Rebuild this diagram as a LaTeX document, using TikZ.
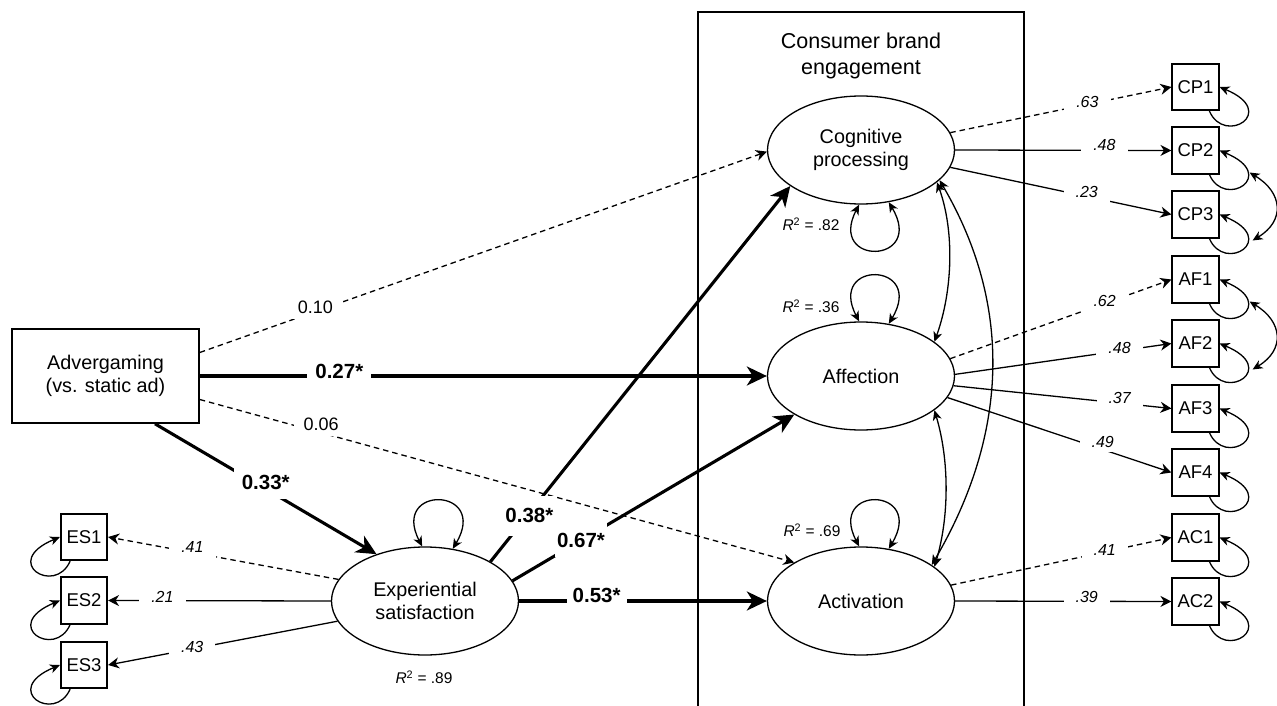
\documentclass[tikz,border=0pt]{standalone}
\usepackage{fontspec}
\setmainfont{Liberation Sans}
\usetikzlibrary{shapes.geometric,arrows.meta,calc}
\tikzset{
 lat/.style={ellipse,draw,line width=1.3pt,minimum width=187pt,minimum height=108pt,align=center,inner sep=1pt,font=\fontsize{19.8}{23.5}\selectfont},
 obs/.style={draw,line width=1.6pt,minimum width=46.5pt,minimum height=46.5pt,inner sep=0pt,font=\fontsize{18.5}{22}\selectfont},
 pathn/.style={line width=1.3pt,-{Stealth[length=11pt,width=11pt,inset=3.5pt]}},
 pathd/.style={pathn,dash pattern=on 5.5pt off 4pt},
 pathb/.style={line width=3.1pt,-{Stealth[length=20pt,width=19pt,inset=6pt]}},
 cov/.style={line width=1.3pt,{Stealth[length=10pt,width=9pt,inset=3pt]}-{Stealth[length=10pt,width=9pt,inset=3pt]}},
 resl/.style={line width=1.3pt,-{Stealth[length=10pt,width=9pt,inset=3pt]}},
 lab/.style={fill=white,inner xsep=12pt,inner ysep=5pt,font=\fontsize{16}{18}\selectfont\itshape},
 nlab/.style={fill=white,inner xsep=10pt,inner ysep=5pt,font=\fontsize{18}{20}\selectfont},
 blab/.style={fill=white,inner xsep=8pt,inner ysep=5pt,font=\fontsize{20.5}{24}\selectfont\bfseries},
 rsq/.style={font=\fontsize{15.5}{18}\selectfont},
}
\begin{document}
\begin{tikzpicture}[x=1pt,y=-1pt]
\useasboundingbox (0,0) rectangle (1277,706);
% frame
\draw[line width=1.5pt] (698,706) -- (698,12) -- (1024,12) -- (1024,706);
\node[align=center,font=\fontsize{21.5}{25.5}\selectfont] (cbe) at (861,56) {Consumer brand\\engagement};
% nodes
\node[obs,minimum width=187pt,minimum height=94pt,align=center,font=\fontsize{19.8}{23}\selectfont] (adv) at (105.5,376) {Advergaming\\(vs. static ad)};
\node[lat] (cog) at (861,150) {Cognitive\\processing};
\node[lat] (af) at (861,376) {Affection};
\node[lat] (act) at (861,601) {Activation};
\node[lat] (es) at (425,601) {Experiential\\satisfaction};
\node[obs] (es1) at (84,537) {ES1};
\node[obs] (es2) at (84,600.5) {ES2};
\node[obs] (es3) at (84,665) {ES3};
\node[obs] (cp1) at (1195.5,87) {CP1};
\node[obs] (cp2) at (1195.5,150.5) {CP2};
\node[obs] (cp3) at (1195.5,214.5) {CP3};
\node[obs] (af1) at (1195.5,279.5) {AF1};
\node[obs] (af2) at (1195.5,343.5) {AF2};
\node[obs] (af3) at (1195.5,408.5) {AF3};
\node[obs] (af4) at (1195.5,472.5) {AF4};
\node[obs] (ac1) at (1195.5,537.5) {AC1};
\node[obs] (ac2) at (1195.5,601.5) {AC2};
% R2
\node[rsq] (r2cog) at (811,224) {\textit{R}\textsuperscript{2} = .82};
\node[rsq] (r2af) at (811,306) {\textit{R}\textsuperscript{2} = .36};
\node[rsq] (r2act) at (812,530) {\textit{R}\textsuperscript{2} = .69};
\node[rsq] (r2es) at (424,677) {\textit{R}\textsuperscript{2} = .89};
% structural paths
\draw[pathd] (adv.14.4) -- node[nlab,pos=.204,yshift=4pt]{0.10} (cog.181);
\draw[pathb] (adv.east) -- node[blab,pos=.246,yshift=5pt]{0.27*} (af.west);
\draw[pathd] (adv.-14) -- node[nlab,pos=.204,yshift=8pt]{0.06} (act.150);
\draw[pathb] (adv.-44.7) -- node[blab,pos=.5,yshift=7pt,minimum height=34pt]{0.33*} (es.136);
\draw[pathb] (es.31) -- node[blab,pos=.13,yshift=-3pt,minimum height=40pt,inner xsep=4pt]{0.38*} (cog.207);
\draw[pathb] (es.13) -- node[blab,pos=.243,minimum height=34pt,inner xsep=2pt]{0.67*} (af.210);
\draw[pathb] (es.east) -- node[blab,pos=.313,yshift=6pt,minimum height=28pt,inner xsep=6pt]{0.53*} (act.west);
% measurement paths
\draw[pathd] (cog.11) -- node[lab,pos=.62,yshift=2.5pt]{.63} (cp1.west);
\draw[pathn] (cog.east) -- node[lab,pos=.69,yshift=5pt]{.48} (cp2.west);
\draw[pathn] (cog.-11) -- node[lab,pos=.617,yshift=4pt]{.23} (cp3.west);
\draw[pathd] (af.11) -- node[lab,pos=.698,yshift=2pt]{.62} (af1.west);
\draw[pathn] (af.1) -- node[lab,pos=.76,yshift=3pt]{.48} (af2.west);
\draw[pathn] (af.-6) -- node[lab,pos=.762,yshift=5pt]{.37} (af3.west);
\draw[pathn] (af.-14) -- node[lab,pos=.693,yshift=8pt]{.49} (af4.west);
\draw[pathd] (act.10) -- node[lab,pos=.697,yshift=1.5pt]{.41} (ac1.west);
\draw[pathn] (act.east) -- node[lab,pos=.608,yshift=4pt]{.39} (ac2.west);
\draw[pathd] (es.166) -- node[lab,pos=.634,yshift=5.5pt]{.41} (es1.east);
\draw[pathn] (es.west) -- node[lab,pos=.756,yshift=4pt]{.21} (es2.east);
\draw[pathn] (es.193) -- node[lab,pos=.633,yshift=2pt]{.43} (es3.east);
% latent residual loops
\draw[cov] (cog.-92) .. controls +(-32,62) and +(37,62) .. (cog.-62);
\draw[cov] (af.92) .. controls +(-32,-62) and +(37,-62) .. (af.62);
\draw[cov] (act.92) .. controls +(-32,-62) and +(37,-62) .. (act.62);
\draw[cov] (es.93) .. controls +(-32,-62) and +(37,-62) .. (es.62);
% latent covariances
\draw[cov] (cog.-23) .. controls +(18,50) and +(18,-50) .. (af.25);
\draw[cov] (cog.-21) .. controls +(75,128) and +(75,-128) .. (act.27);
\draw[cov] (af.-25) .. controls +(15,50) and +(15,-50) .. (act.25);
% indicator residual loops
\foreach \b in {cp1,cp2,cp3,af1,af2,af3,af4,ac1,ac2}
  \draw[resl] (\b.-60) .. controls +(15,35) and +(60,25) .. (\b.east);
\foreach \b in {es1,es2,es3}
  \draw[resl] (\b.-120) .. controls +(-15,35) and +(-60,25) .. (\b.west);
% residual covariances
\coordinate (ecp2) at ($(cp2.east)+(30,22)$);
\coordinate (ecp3) at ($(cp3.east)+(33,26)$);
\coordinate (eaf1) at ($(af1.east)+(30,22)$);
\coordinate (eaf2) at ($(af2.east)+(33,26)$);
\draw[cov] (ecp2) .. controls +(33,20) and +(33,-20) .. (ecp3);
\draw[cov] (eaf1) .. controls +(33,20) and +(33,-20) .. (eaf2);
\end{tikzpicture}
\end{document}
